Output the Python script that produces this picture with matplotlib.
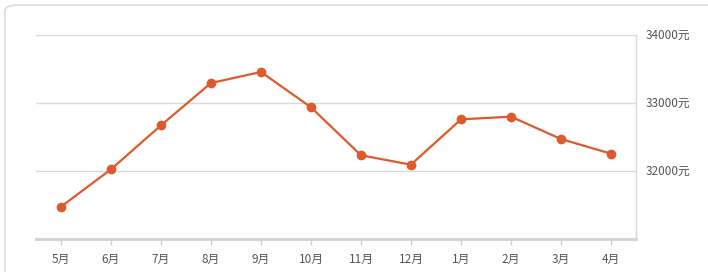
import matplotlib.pyplot as plt
from matplotlib.patches import FancyBboxPatch

# data
months = ['5月', '6月', '7月', '8月', '9月', '10月', '11月', '12月', '1月', '2月', '3月', '4月']
prices = [31475, 32025, 32672, 33294, 33456, 32937, 32231, 32093, 32760, 32799, 32470, 32255]
ytick_vals = [32000, 33000, 34000]
ytick_labels = ['32000元', '33000元', '34000元']

plt.rcParams['font.family'] = ['Noto Sans CJK SC', 'DejaVu Sans']

W, H = 708, 272
fig = plt.figure(figsize=(W / 100, H / 100), dpi=100)

# outer rounded frame
frame = FancyBboxPatch((5 / W, -0.1), 1.1, (H - 5) / H + 0.1,
                       boxstyle='round,pad=0,rounding_size=0.02',
                       transform=fig.transFigure, fill=False,
                       edgecolor='#dcdcdc', linewidth=1.2)
fig.patches.append(frame)

ax = fig.add_axes([36 / W, 33 / H, 600 / W, 204 / H])
x = list(range(len(months)))
ax.plot(x, prices, color='#dc5a2c', linewidth=1.6, marker='o',
        markersize=7, markeredgewidth=0, zorder=3, clip_on=False)

ax.set_xlim(-0.5, 11.5)
ax.set_ylim(31000, 34000)
ax.set_xticks(x)
ax.set_xticklabels(months)
ax.yaxis.tick_right()
ax.set_yticks(ytick_vals)
ax.set_yticklabels(ytick_labels)

ax.grid(axis='y', color='#d9d9d9', linewidth=1)
ax.set_axisbelow(True)
for s in ['left', 'top']:
    ax.spines[s].set_visible(False)
ax.spines['right'].set_color('#d9d9d9')
ax.spines['right'].set_linewidth(1)
ax.spines['bottom'].set_color('#d2d2d2')
ax.spines['bottom'].set_linewidth(2)

ax.tick_params(axis='x', colors='#cccccc', length=4, width=1, labelcolor='#555555',
               labelsize=8.5, pad=6)
ax.tick_params(axis='y', length=0, labelcolor='#555555', labelsize=8.5, pad=7)
for lbl in ax.get_yticklabels():
    lbl.set_verticalalignment('center')

plt.savefig('out.png', dpi=100)
